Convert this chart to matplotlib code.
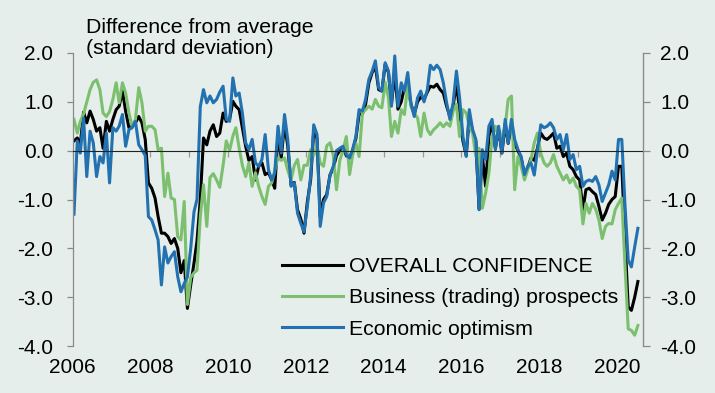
import matplotlib
matplotlib.use("Agg")
import matplotlib.pyplot as plt
import matplotlib.dates as mdates
from matplotlib.ticker import FormatStrFormatter
import numpy as np
import pandas as pd

plt.rcParams["font.family"] = ["Liberation Sans", "DejaVu Sans"]
plt.rcParams["axes.unicode_minus"] = False

# monthly readings, Jan 2006 - Jul 2020 (standard deviations from average)
overall = [
    0.20, 0.26, 0.12, 0.79, 0.57, 0.81, 0.64, 0.40, 0.47, 0.05, 0.60, 0.40,
    0.64, 0.84, 0.91, 1.22, 0.81, 0.47, 0.50, 0.57, 0.70, 0.57, 0.23, -0.66,
    -0.77, -0.97, -1.35, -1.69, -1.69, -1.76, -1.90, -1.80, -2.00, -2.50, -2.25, -3.23,
    -2.75, -2.30, -1.85, -1.00, 0.26, 0.12, 0.40, 0.53, 0.29, 0.36, 0.77, 0.60,
    0.64, 1.01, 0.91, 0.84, 0.47, 0.09, -0.20, -0.12, -0.60, -0.32, -0.25, -0.49,
    -0.45, -0.60, -0.77, 0.35, -0.15, 0.55, 0.10, -0.70, -0.65, -1.21, -1.40, -1.69,
    -1.05, -0.60, 0.40, 0.25, -1.35, -1.00, -0.90, -0.50, -0.35, -0.10, 0.00, 0.05,
    -0.10, -0.15, 0.00, 0.25, 0.75, 0.75, 0.95, 1.39, 1.60, 1.73, 1.25, 1.22,
    1.77, 1.60, 0.95, 1.60, 0.85, 1.00, 1.30, 1.30, 0.95, 0.75, 1.00, 1.10,
    1.05, 1.20, 1.32, 1.30, 1.36, 1.25, 1.18, 0.91, 0.70, 0.91, 1.39, 0.81,
    0.20, -0.10, 0.70, 0.40, 0.20, -1.20, -0.10, -0.73, 0.30, 0.55, 0.05, 0.45,
    -0.05, 0.55, 0.15, 0.55, 0.15, 0.00, -0.15, -0.50, -0.35, -0.15, -0.20, 0.05,
    0.36, 0.26, 0.23, 0.29, 0.36, 0.05, 0.09, -0.12, -0.05, -0.32, -0.39, -0.53,
    -0.60, -1.21, -0.80, -0.77, -0.84, -0.90, -1.14, -1.42, -1.28, -1.10, -1.00, -0.94,
    -0.32, -0.32, -1.75, -3.20, -3.27, -3.00, -2.68,
]

business = [
    0.64, 0.36, 0.60, 0.75, 1.00, 1.25, 1.40, 1.45, 1.25, 0.77, 0.70, 0.80,
    1.05, 1.39, 0.98, 1.39, 1.18, 0.77, 0.50, 0.64, 1.29, 0.98, 0.40, 0.50,
    0.50, 0.43, 0.02, 0.05, -0.94, -0.46, -0.97, -1.00, -1.76, -1.83, -1.04, -3.15,
    -2.60, -2.50, -2.45, -1.35, -0.70, -1.55, -0.55, -0.47, -0.60, -0.75, -0.30, 0.20,
    0.00, 0.30, 0.47, 0.05, -0.30, -0.53, -0.25, -0.73, -0.45, -0.73, -0.94, -1.10,
    -0.73, -0.66, -0.40, -0.15, -0.20, -0.15, -0.40, -0.60, -0.30, -0.18, -0.60, -0.30,
    -0.30, 0.02, -0.10, 0.10, -0.25, -0.32, 0.10, 0.16, -0.10, -0.80, -0.20, 0.00,
    0.29, -0.49, -0.10, 0.16, -0.12, 0.77, 0.84, 0.91, 0.85, 1.05, 0.91, 0.88,
    1.40, 1.08, 0.29, 0.60, 0.36, 0.84, 0.74, 1.36, 0.90, 0.77, 0.67, 0.29,
    0.77, 0.43, 0.33, 0.43, 0.49, 0.57, 0.49, 0.57, 0.50, 0.81, 0.95, 0.29,
    0.84, 0.77, 0.50, 0.36, -0.12, 0.05, -1.18, -0.87, -0.46, 0.29, 0.50, 0.29,
    0.30, 0.50, 1.05, 1.12, -0.80, -0.12, -0.32, -0.60, -0.39, -0.18, 0.16, 0.36,
    -0.05, -0.25, -0.32, -0.25, -0.08, -0.32, -0.46, -0.60, -0.50, -0.66, -0.56, -0.73,
    -0.80, -1.50, -1.08, -1.28, -1.08, -1.20, -1.42, -1.80, -1.55, -1.49, -1.50, -1.21,
    -1.08, -0.97, -2.30, -3.65, -3.68, -3.78, -3.58,
]

economic = [
    -1.30, 0.20, -0.05, 0.67, -0.53, 0.40, 0.16, -0.53, -0.12, -0.25, 0.36, -0.66,
    0.47, 0.40, 0.50, 0.74, 0.09, 0.43, 0.47, 0.60, 0.12, 0.02, -0.10, -1.35,
    -1.42, -1.62, -1.83, -2.75, -1.97, -2.30, -2.17, -2.07, -2.58, -2.89, -2.72, -2.58,
    -2.00, -1.25, -1.00, 0.90, 1.25, 0.98, 1.12, 0.98, 1.05, 1.20, 1.32, 0.64,
    0.60, 1.49, 1.12, 1.18, 0.77, 0.16, 0.02, 0.23, -0.25, -0.32, -0.18, 0.33,
    -0.39, -0.60, -0.46, 0.50, -0.05, 0.74, 0.23, -0.73, -0.66, -1.28, -1.49, -1.66,
    -1.14, -0.53, 0.53, 0.33, -1.55, -1.07, -0.94, -0.50, -0.32, 0.00, 0.05, 0.09,
    -0.08, -0.15, 0.02, 0.29, 0.84, 0.81, 1.05, 1.46, 1.63, 1.84, 1.29, 1.22,
    1.80, 1.63, 0.91, 1.94, 0.91, 1.39, 1.22, 1.60, 0.95, 0.70, 1.08, 1.22,
    1.00, 1.25, 1.75, 1.66, 1.75, 1.66, 1.39, 0.98, 0.64, 0.98, 1.63, 1.08,
    0.29, -0.12, 0.84, 0.43, 0.23, -1.21, 0.02, -0.18, 0.50, 0.64, 0.02, 0.50,
    -0.05, 0.64, 0.16, 0.64, 0.23, 0.02, -0.12, -0.49, -0.32, -0.25, -0.50, 0.00,
    0.53, 0.47, 0.50, 0.57, 0.47, 0.23, 0.33, 0.02, 0.33, -0.18, -0.08, -0.39,
    -0.32, -0.73, -0.63, -0.60, -0.63, -0.53, -0.70, -1.04, -0.87, -0.70, -0.42, -0.60,
    0.23, 0.23, -1.08, -2.24, -2.38, -1.97, -1.59,
]

labels = ["OVERALL CONFIDENCE", "Business (trading) prospects", "Economic optimism"]
colors = ["#000000", "#7cc06f", "#2271b1"]

# mid-month dates
months = pd.date_range("2006-01-01", periods=len(overall), freq="MS") + pd.Timedelta(days=14)
x = mdates.date2num(months)

bg = "#e5eeea"
fs_tick = 15
fs_text = 15.3

fig = plt.figure(figsize=(7.15, 3.93), dpi=100)
fig.patch.set_facecolor(bg)
W, H = 715, 393
ax = fig.add_axes([72.5 / W, 1 - 346 / H, (643 - 72.5) / W, (346 - 53) / H])
ax.set_facecolor(bg)

for vals, lab, col in zip([overall, business, economic], labels, colors):
    ax.plot(x, vals, color=col, lw=2.2, label=lab)

ax.set_xlim(mdates.date2num(pd.Timestamp("2006-01-01")),
            mdates.date2num(pd.Timestamp("2020-09-01")))
ax.set_ylim(-4, 2)

# zero line with yearly tick marks
ax.spines["top"].set_visible(False)
ax.spines["bottom"].set_position(("data", 0))
ax.spines["bottom"].set_color("#222222")
ax.spines["bottom"].set_linewidth(0.8)
for s in ("left", "right"):
    ax.spines[s].set_color("#8a8a8a")
    ax.spines[s].set_linewidth(0.9)
ax.xaxis.set_major_locator(mdates.YearLocator(1))
ax.tick_params(axis="x", direction="out", length=4, width=0.9, color="#9a9a9a",
               labelbottom=False)

yt = np.arange(-4, 2.1, 1)
ax.set_yticks(yt)
ax.yaxis.set_major_formatter(FormatStrFormatter("%.1f"))
ax.tick_params(axis="y", length=4, width=0.9, color="#8a8a8a", labelsize=fs_tick, pad=10)

ax2 = ax.twinx()
ax2.set_ylim(ax.get_ylim())
ax2.set_yticks(yt)
ax2.yaxis.set_major_formatter(FormatStrFormatter("%.1f"))
ax2.tick_params(axis="y", length=5, width=0.9, color="#8a8a8a", labelsize=fs_tick, pad=7.5)
for s in ("top", "bottom", "left"):
    ax2.spines[s].set_visible(False)
ax2.spines["right"].set_color("#8a8a8a")

# year labels along the bottom
sec = ax.secondary_xaxis("bottom")
sec.xaxis.set_major_locator(mdates.YearLocator(2))
sec.xaxis.set_major_formatter(mdates.DateFormatter("%Y"))
sec.tick_params(length=0, pad=8.5, labelsize=fs_tick)
sec.spines["bottom"].set_visible(False)

fig.text(86 / W, 1 - 18 / H, "Difference from average\n(standard deviation)",
         ha="left", va="top", fontsize=fs_text, linespacing=1.12)

ax.legend(loc="upper left", bbox_to_anchor=(282 / W, 1 - 257 / H),
          bbox_transform=fig.transFigure, frameon=False, fontsize=fs_text,
          handlelength=2.85, handletextpad=0.3, labelspacing=0.58,
          borderpad=0, borderaxespad=0)

fig.savefig("out.png", dpi=100, facecolor=bg)
